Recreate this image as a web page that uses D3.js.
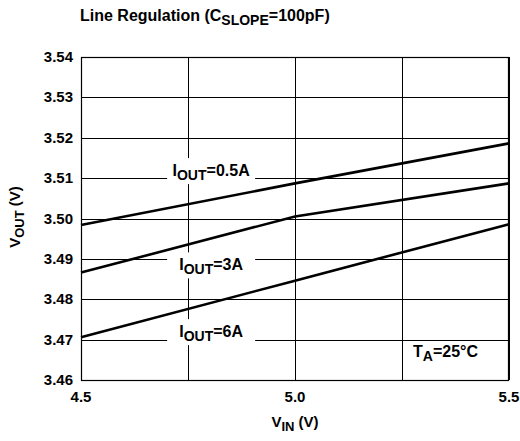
<!DOCTYPE html>
<html lang="en">
<head>
<meta charset="UTF-8">
<title>Line Regulation</title>
<script src="https://d3js.org/d3.v7.min.js"></script>
<style>
  body { margin: 0; background: #fff; }
  svg { font-family: "Liberation Sans", Arial, sans-serif; font-weight: bold; }
</style>
</head>
<body>
<svg width="520" height="441"></svg>
<script>
// data
const vin = [4.5, 5.0, 5.5];
const vout05 = [3.4984, 3.5087, 3.5186];
const vout3 = [3.4866, 3.5005, 3.5087];
const vout6 = [3.4706, 3.4846, 3.4986];
const xTicks = [4.5, 5.0, 5.5];
const xGrid = [4.5, 4.75, 5.0, 5.25, 5.5];
const yTicks = [3.46, 3.47, 3.48, 3.49, 3.50, 3.51, 3.52, 3.53, 3.54];

const series = [
  { name: "0.5A", values: vout05, lx: 4.804, ly: 3.51, dy: -2 },
  { name: "3A", values: vout3, lx: 4.804, ly: 3.49, dy: 11.5 },
  { name: "6A", values: vout6, lx: 4.804, ly: 3.47, dy: -2.5 }
];

const svg = d3.select("svg");
const pLeft = 81, pRight = 509, pTop = 57, pBottom = 380;

const x = d3.scaleLinear().domain([4.5, 5.5]).range([pLeft, pRight]);
const y = d3.scaleLinear().domain([3.46, 3.54]).range([pBottom, pTop]);

// grid
svg.append("g").selectAll("line").data(yTicks).enter().append("line")
  .attr("x1", pLeft).attr("x2", pRight)
  .attr("y1", d => Math.round(y(d)) + 0.5).attr("y2", d => Math.round(y(d)) + 0.5)
  .attr("stroke", "#000").attr("stroke-width", 1);
svg.append("g").selectAll("line").data(xGrid).enter().append("line")
  .attr("y1", pTop).attr("y2", pBottom)
  .attr("x1", d => Math.round(x(d)) + 0.5).attr("x2", d => Math.round(x(d)) + 0.5)
  .attr("stroke", "#000").attr("stroke-width", 1);

// label backgrounds (white boxes cut the grid)
const labels = svg.append("g");
series.forEach(s => {
  const cx = x(s.lx), by = y(s.ly) + s.dy;
  labels.append("rect")
    .attr("x", cx - 44).attr("y", by - 18)
    .attr("width", 88).attr("height", 26)
    .attr("fill", "#fff");
});

// curves
const line = d3.line().x((d, i) => x(vin[i])).y(d => y(d));
svg.append("g").selectAll("path").data(series).enter().append("path")
  .attr("d", d => line(d.values))
  .attr("fill", "none").attr("stroke", "#000").attr("stroke-width", 2.6);

// curve labels
series.forEach(s => {
  const t = labels.append("text")
    .attr("x", x(s.lx)).attr("y", y(s.ly) + s.dy)
    .attr("text-anchor", "middle").attr("font-size", 16);
  t.append("tspan").text("I");
  t.append("tspan").attr("font-size", 14).attr("dy", 4).text("OUT");
  t.append("tspan").attr("dy", -4).text("=" + s.name);
});

// TA note
const ta = svg.append("text").attr("x", 413).attr("y", 357).attr("font-size", 16);
ta.append("tspan").text("T");
ta.append("tspan").attr("font-size", 14).attr("dy", 4).text("A");
ta.append("tspan").attr("dy", -4).text("=25°C");

// frame
svg.append("rect")
  .attr("x", pLeft + 0.5).attr("y", pTop + 0.5)
  .attr("width", pRight - pLeft - 1).attr("height", pBottom - pTop)
  .attr("fill", "none").attr("stroke", "#000").attr("stroke-width", 1.2);

// tick labels
svg.append("g").selectAll("text").data(yTicks).enter().append("text")
  .attr("x", 73).attr("y", d => y(d) + 5)
  .attr("text-anchor", "end").attr("font-size", 15)
  .text(d => d3.format(".2f")(d));
svg.append("g").selectAll("text").data(xTicks).enter().append("text")
  .attr("x", d => x(d)).attr("y", 402)
  .attr("text-anchor", "middle").attr("font-size", 15)
  .text(d => d3.format(".1f")(d));

// axis titles
const xt = svg.append("text").attr("x", 295).attr("y", 427)
  .attr("text-anchor", "middle").attr("font-size", 15);
xt.append("tspan").text("V");
xt.append("tspan").attr("font-size", 13).attr("dy", 4).text("IN");
xt.append("tspan").attr("dy", -4).text(" (V)");

const yt = svg.append("text").attr("transform", "translate(20,217) rotate(-90)")
  .attr("text-anchor", "middle").attr("font-size", 15);
yt.append("tspan").text("V");
yt.append("tspan").attr("font-size", 13).attr("dy", 4).text("OUT");
yt.append("tspan").attr("dy", -4).text(" (V)");

// title
const title = svg.append("text").attr("x", 80).attr("y", 21).attr("font-size", 16);
title.append("tspan").text("Line Regulation (C");
title.append("tspan").attr("font-size", 14).attr("dy", 4).text("SLOPE");
title.append("tspan").attr("dy", -4).text("=100pF)");
</script>
</body>
</html>
